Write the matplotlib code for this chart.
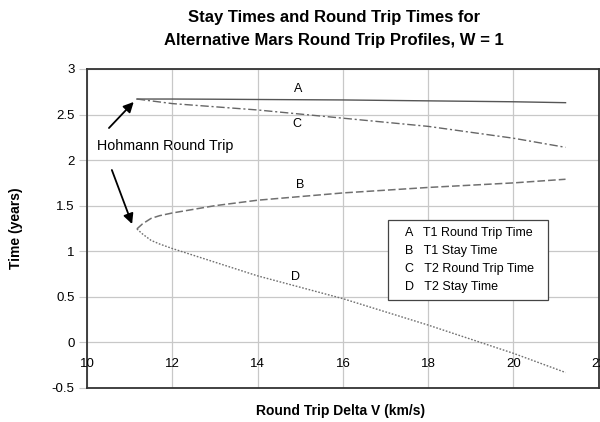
import matplotlib.pyplot as plt
from matplotlib.lines import Line2D

plt.rcParams['font.family'] = ['Liberation Sans', 'DejaVu Sans']

# Round trip delta V (km/s) for each curve
dv = [11.17, 11.5, 12, 13, 14, 16, 18, 20, 21.22]

# A: T1 round trip time, C: T2 round trip time
t1_round = [2.67, 2.67, 2.67, 2.668, 2.665, 2.66, 2.65, 2.64, 2.63]
t2_round = [2.67, 2.65, 2.62, 2.585, 2.55, 2.46, 2.37, 2.24, 2.14]

# B: T1 stay time, D: T2 stay time
dv_stay = [11.17, 11.3, 11.5, 11.7, 12, 13, 14, 16, 18, 20, 21.22]
t1_stay = [1.245, 1.30, 1.36, 1.39, 1.42, 1.50, 1.56, 1.64, 1.70, 1.75, 1.79]
t2_stay = [1.245, 1.19, 1.12, 1.08, 1.03, 0.88, 0.73, 0.48, 0.19, -0.12, -0.33]

xticks = [10, 12, 14, 16, 18, 20, 22]
yticks = [-0.5, 0, 0.5, 1, 1.5, 2, 2.5, 3]

curve_labels = ['A', 'B', 'C', 'D']
curve_names = ['T1 Round Trip Time', 'T1 Stay Time',
               'T2 Round Trip Time', 'T2 Stay Time']

fig = plt.figure(figsize=(6, 4.22), dpi=100)
ax = fig.add_axes([0.145, 0.0806, 0.853, 0.756])

ax.plot(dv, t1_round, color='#555555', lw=1.0, ls='-')
ax.plot(dv, t2_round, color='#666666', lw=1.0, ls=(0, (6, 2, 1.5, 2)))
ax.plot(dv_stay, t1_stay, color='#707070', lw=1.1, ls=(0, (5, 2)))
ax.plot(dv_stay, t2_stay, color='#707070', lw=1.0, ls=(0, (1.2, 1.2)))

# curve letters
ax.text(14.95, 2.78, 'A', fontsize=9, ha='center', va='center')
ax.text(14.92, 2.40, 'C', fontsize=9, ha='center', va='center')
ax.text(15.0, 1.73, 'B', fontsize=9, ha='center', va='center')
ax.text(14.9, 0.72, 'D', fontsize=9, ha='center', va='center')

ax.text(10.23, 2.15, 'Hohmann Round Trip', fontsize=10.3, va='center')
arrow = dict(arrowstyle='-|>', color='black', lw=1.3, mutation_scale=15)
ax.annotate('', xy=(11.14, 2.66), xytext=(10.47, 2.33), arrowprops=arrow)
ax.annotate('', xy=(11.08, 1.27), xytext=(10.56, 1.92), arrowprops=arrow)

ax.set_xlim(10, 22)
ax.set_ylim(-0.5, 3)
ax.set_xticks(xticks)
ax.set_yticks(yticks)
ax.set_yticklabels([f'{v:g}' for v in yticks])
ax.grid(True, color='#c8c8c8', lw=0.9)
ax.set_axisbelow(True)
ax.tick_params(axis='x', length=0, labelbottom=False)
ax.tick_params(axis='y', length=6, color='#c8c8c8', labelsize=9.5, pad=3)

# x labels sit just under the zero line
for v in xticks:
    ax.annotate(str(v), xy=(v, 0), xytext=(0, -15.5), textcoords='offset points',
                ha='center', va='center', fontsize=9.5, annotation_clip=False)

for s in ax.spines.values():
    s.set_color('#333333')
    s.set_linewidth(1.3)

handles = [Line2D([], [], ls='none') for _ in curve_labels]
labels = [f'{c}   {n}  ' for c, n in zip(curve_labels, curve_names)]
leg = ax.legend(handles, labels, loc='upper left', bbox_to_anchor=(0.588, 0.527),
                handlelength=0.6, handletextpad=0.2, fontsize=9, frameon=True,
                fancybox=False, edgecolor='#444444', framealpha=1,
                borderpad=0.55, labelspacing=0.5, borderaxespad=0)
leg.get_frame().set_linewidth(0.9)

fig.text(0.557, 0.958, 'Stay Times and Round Trip Times for', ha='center',
         va='center', fontsize=12, fontweight='bold')
fig.text(0.557, 0.905, 'Alternative Mars Round Trip Profiles, W = 1', ha='center',
         va='center', fontsize=12, fontweight='bold')
fig.text(0.567, 0.025, 'Round Trip Delta V (km/s)', ha='center', va='center',
         fontsize=10, fontweight='bold')
fig.text(0.027, 0.46, 'Time (years)', ha='center', va='center', rotation=90,
         fontsize=10, fontweight='bold')

fig.savefig('out.png', dpi=100)
